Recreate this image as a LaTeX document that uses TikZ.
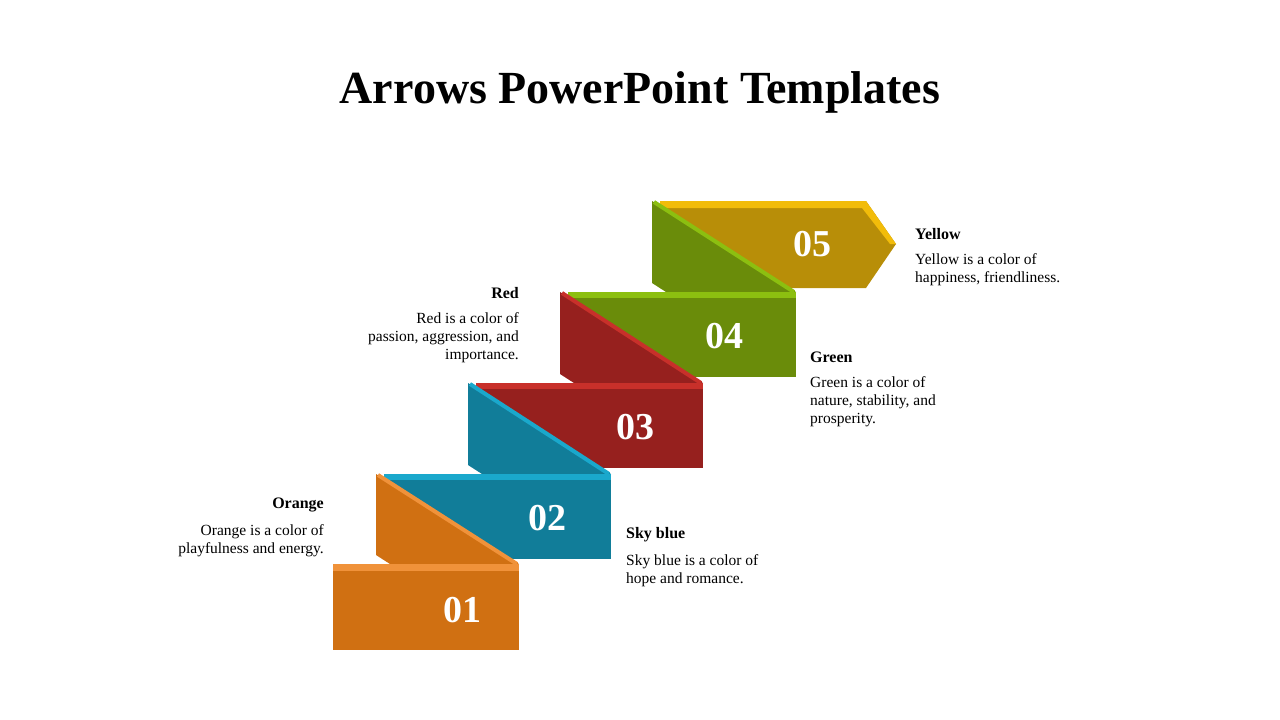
\documentclass[tikz,border=0pt]{standalone}
\usepackage{fontspec}
\setmainfont{Liberation Serif}
\begin{document}
\begin{tikzpicture}[x=1pt,y=-1pt,
  num/.style={text=white,font=\fontsize{38}{38}\selectfont\bfseries},
  head/.style={font=\fontsize{16}{18}\selectfont\bfseries},
  body/.style={font=\fontsize{15.5}{18}\selectfont,inner sep=0pt}]
\definecolor{od}{HTML}{D07012}\definecolor{ol}{HTML}{F0923A}
\definecolor{bd}{HTML}{117D99}\definecolor{bl}{HTML}{1AA8CC}
\definecolor{rd}{HTML}{96201E}\definecolor{rl}{HTML}{C8302A}
\definecolor{gd}{HTML}{6A8C0A}\definecolor{gl}{HTML}{8CBF10}
\definecolor{yd}{HTML}{B88E08}\definecolor{yl}{HTML}{F2BC0A}
\useasboundingbox (0,0) rectangle (1280,720);
\node (title) at (640,92) {\fontsize{46}{50}\selectfont\bfseries Arrows PowerPoint Templates};
% box 05 arrow
\fill[yd] (660,201) -- (866,201) -- (896,244) -- (866,288) -- (660,288) -- cycle;
\fill[yl] (660,201) -- (866,201) -- (896,244) -- (890,244) -- (862,208) -- (660,208) -- cycle;
% riser green under 05
\fill[gd] (652,201) -- (796,292) -- (666,292) -- (652,283) -- cycle;
\draw[gl,line width=4] (654,202) -- (794,292);
% box 04
\fill[gd] (568,292) rectangle (796,377);
\fill[gl] (568,292) rectangle (796,298);
\fill[rd] (560,292) -- (703,383) -- (574,383) -- (560,374) -- cycle;
\draw[rl,line width=4] (562,293) -- (701,383);
% box 03
\fill[rd] (476,383) rectangle (703,468);
\fill[rl] (476,383) rectangle (703,389);
\fill[bd] (468,383) -- (611,474) -- (482,474) -- (468,465) -- cycle;
\draw[bl,line width=4] (470,384) -- (609,474);
% box 02
\fill[bd] (384,474) rectangle (611,559);
\fill[bl] (384,474) rectangle (611,480);
\fill[od] (376,474) -- (519,564) -- (390,564) -- (376,555) -- cycle;
\draw[ol,line width=4] (378,475) -- (517,564);
% box 01
\fill[od] (333,564) rectangle (519,650);
\fill[ol] (333,564) rectangle (519,571);
\node[num] (n1) at (462,610) {01};
\node[num] (n2) at (547,518) {02};
\node[num] (n3) at (635,427) {03};
\node[num] (n4) at (724,336) {04};
\node[num] (n5) at (812,244) {05};
% texts
\node[head,anchor=west,inner sep=0pt] (h5) at (915,234) {Yellow};
\node[body,anchor=north west,align=left] (t5) at (915,253) {Yellow is a color of\\happiness, friendliness.};
\node[head,anchor=west,inner sep=0pt] (h4) at (810,357) {Green};
\node[body,anchor=north west,align=left] (t4) at (810,376) {Green is a color of\\nature, stability, and\\prosperity.};
\node[head,anchor=west,inner sep=0pt] (h2) at (626,535) {Sky blue};
\node[body,anchor=north west,align=left] (t2) at (626,554) {Sky blue is a color of\\hope and romance.};
\node[head,anchor=east,inner sep=0pt] (h3) at (519,293) {Red};
\node[body,anchor=north east,align=right] (t3) at (519,312) {Red is a color of\\passion, aggression, and\\importance.};
\node[head,anchor=east,inner sep=0pt] (h1) at (324,505) {Orange};
\node[body,anchor=north east,align=right] (t1) at (324,524) {Orange is a color of\\playfulness and energy.};
\end{tikzpicture}
\end{document}
